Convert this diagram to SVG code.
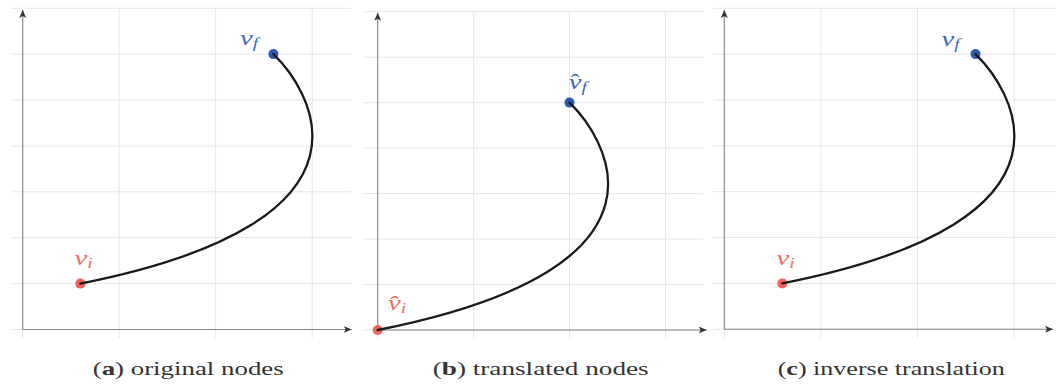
<svg xmlns="http://www.w3.org/2000/svg" width="1060" height="385" viewBox="0 0 1060 385">
<style>
.grid{stroke:#e6e6e6;stroke-width:1;fill:none}
.axis{stroke:#858585;stroke-width:1.1;fill:none;marker-end:url(#arr)}
.curve{stroke:#1a1a1a;stroke-width:2.3;fill:none;stroke-linecap:round}
.red{fill:#f0625a}
.blue{fill:#2a5bb0}
.lred{fill:#f06a62}
.lblue{fill:#3a68bd}
.m{font-family:'Liberation Serif',serif;font-style:italic;font-size:22px}
.sub{font-size:15px}
.cap{font-family:'Liberation Serif',serif;font-size:19.5px;fill:#333}
</style>
<defs>
<marker id="arr" markerWidth="9" markerHeight="8" refX="8" refY="3.5" orient="auto" markerUnits="userSpaceOnUse">
<path d="M0,0 L8,3.5 L0,7 L2,3.5 Z" fill="#333"/>
</marker>
</defs>

<!-- Panel a -->
<g id="panel-a">
<g id="grid-a" class="grid">
<path d="M11.7,8.3H351M11.7,54.2H351M11.7,100.1H351M11.7,146H351M11.7,191.8H351M11.7,237.7H351M11.7,283.6H351M11.7,329.5H351"/>
<path d="M22.7,8.3V338M119.2,8.3V338M215.7,8.3V338M312.2,8.3V338"/>
</g>
<g id="axes-a">
<line class="axis" x1="22.7" y1="329.5" x2="22.7" y2="10"/>
<line class="axis" x1="22.7" y1="329.5" x2="351.7" y2="329.5"/>
</g>
<g id="node-a-vi"><circle class="red" cx="80.4" cy="283.6" r="5"/>
<text class="m lred" transform="translate(74.5,264.5) scale(1.3,1)">v<tspan class="sub" dy="3">i</tspan></text></g>
<g id="node-a-vf"><circle class="blue" cx="273.4" cy="54.1" r="5"/>
<text class="m lblue" transform="translate(240,45) scale(1.3,1)">v<tspan class="sub" dy="3">f</tspan></text></g>
<g id="edge-a"><path class="curve" d="M80.4,283.6 C403.9,219.3 304.5,83.9 273.4,54.1"/></g>
</g>

<!-- Panel b -->
<g id="panel-b">
<g id="grid-b" class="grid">
<path d="M363.3,11.7H703.3M363.3,57.2H703.3M363.3,102.7H703.3M363.3,148.1H703.3M363.3,193.6H703.3M363.3,239.1H703.3M363.3,284.5H703.3M363.3,330H703.3"/>
<path d="M377.7,11.7V338M473.6,11.7V338M569.5,11.7V338M665.4,11.7V338"/>
</g>
<g id="axes-b">
<line class="axis" x1="377.7" y1="330" x2="377.7" y2="12.7"/>
<line class="axis" x1="377.7" y1="330" x2="706.7" y2="330"/>
</g>
<g id="node-b-vi"><circle class="red" cx="377.7" cy="330" r="5"/>
<text class="m lred" transform="translate(388,310) scale(1.3,1)">v̂<tspan class="sub" dy="3">i</tspan></text></g>
<g id="node-b-vf"><circle class="blue" cx="569.5" cy="102.6" r="5"/>
<text class="m lblue" transform="translate(568.7,88.5) scale(1.3,1)">v̂<tspan class="sub" dy="3">f</tspan></text></g>
<g id="edge-b"><path class="curve" d="M377.7,330 C699,266.3 600.2,132.2 569.5,102.6"/></g>
</g>

<!-- Panel c -->
<g id="panel-c">
<g id="grid-c" class="grid">
<path d="M713.3,8.3H1056M713.3,54.1H1056M713.3,100H1056M713.3,145.9H1056M713.3,191.7H1056M713.3,237.6H1056M713.3,283.4H1056M713.3,329.3H1056"/>
<path d="M724.3,8.3V338M820.9,8.3V338M917.5,8.3V338M1014.1,8.3V338"/>
</g>
<g id="axes-c">
<line class="axis" x1="724.3" y1="329.3" x2="724.3" y2="10"/>
<line class="axis" x1="724.3" y1="329.3" x2="1053" y2="329.3"/>
</g>
<g id="node-c-vi"><circle class="red" cx="782.3" cy="283.4" r="5"/>
<text class="m lred" transform="translate(776.5,264.7) scale(1.3,1)">v<tspan class="sub" dy="3">i</tspan></text></g>
<g id="node-c-vf"><circle class="blue" cx="975.5" cy="54.1" r="5"/>
<text class="m lblue" transform="translate(941.5,45.5) scale(1.3,1)">v<tspan class="sub" dy="3">f</tspan></text></g>
<g id="edge-c"><path class="curve" d="M782.3,283.4 C1105.9,219.2 1006.4,83.9 975.5,54.1"/></g>
</g>

<!-- Captions -->
<g id="captions">
<text class="cap" x="92.7" y="375" textLength="191" lengthAdjust="spacingAndGlyphs">(<tspan font-weight="bold">a</tspan>) original nodes</text>
<text class="cap" x="432.7" y="375" textLength="216" lengthAdjust="spacingAndGlyphs">(<tspan font-weight="bold">b</tspan>) translated nodes</text>
<text class="cap" x="777.7" y="375" textLength="227" lengthAdjust="spacingAndGlyphs">(<tspan font-weight="bold">c</tspan>) inverse translation</text>
</g>
</svg>
